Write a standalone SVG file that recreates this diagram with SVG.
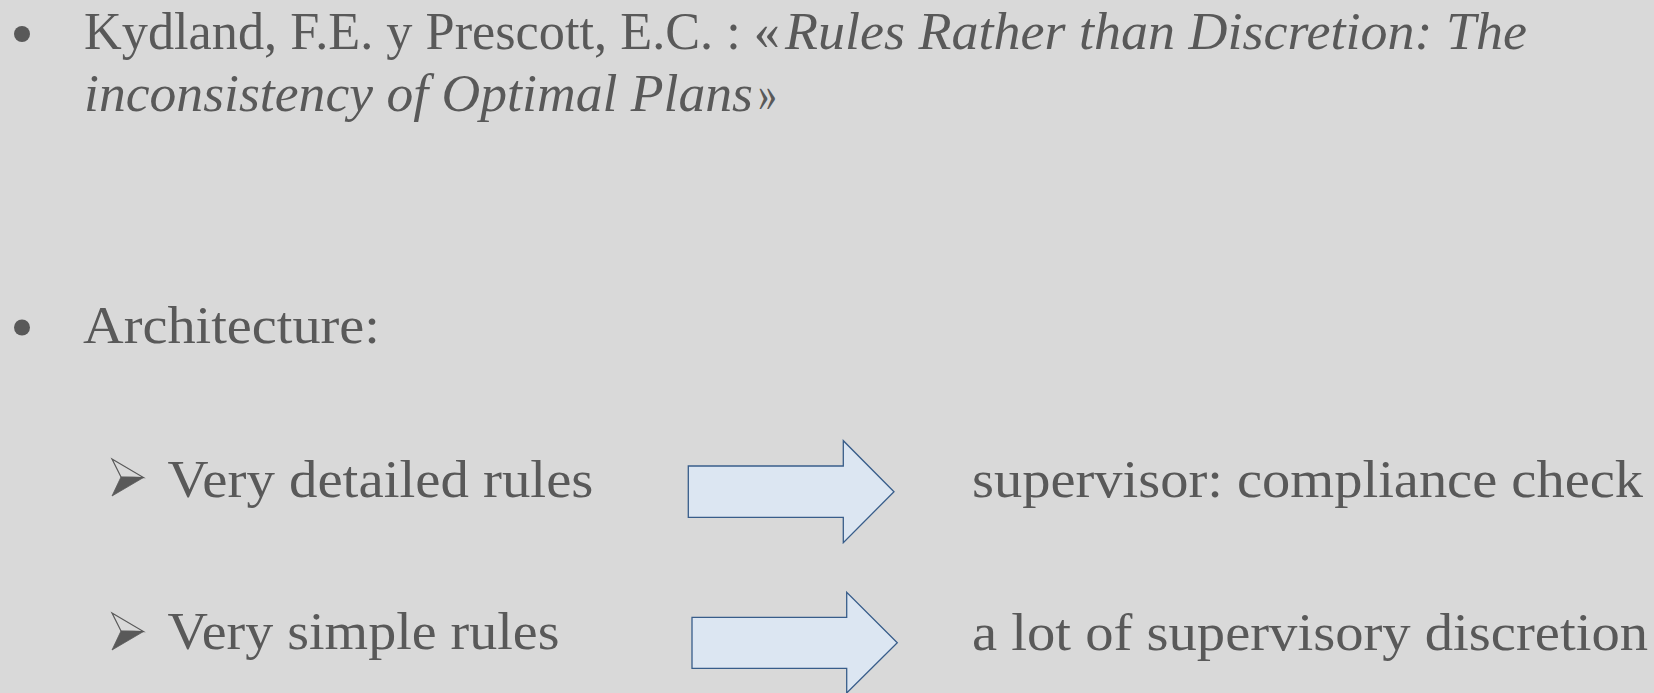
<svg xmlns="http://www.w3.org/2000/svg" width="1654" height="693" viewBox="0 0 1654 693">
<style>
.t{font-family:"Liberation Serif","Times New Roman",serif;font-size:53px;fill:#595959}
.i{font-style:italic}
.blk{fill:#dce6f2;stroke:#385d8a;stroke-width:1.3;stroke-linejoin:miter}
</style>
<defs>
<g id="sub">
<polygon points="112,459 143.5,477.5 121,477" fill="#d9d9d9" stroke="#595959" stroke-width="1.2" stroke-linejoin="miter"/>
<polygon points="121,477 143.5,477.5 112,496" fill="#595959" stroke="#595959" stroke-width="0.8"/>
</g>
</defs>
<rect width="1654" height="693" fill="#d9d9d9"/>
<g id="ref">
<circle cx="22" cy="34" r="8" fill="#595959"/>
<text class="t" x="84" y="49" textLength="696" lengthAdjust="spacingAndGlyphs">Kydland, F.E. y Prescott, E.C. : «</text>
<text class="t i" x="785" y="49" textLength="742" lengthAdjust="spacingAndGlyphs">Rules Rather than Discretion: The</text>
<text class="t i" x="84" y="111" textLength="669" lengthAdjust="spacingAndGlyphs">inconsistency of Optimal Plans</text>
<text class="t" x="758" y="111" textLength="19" lengthAdjust="spacingAndGlyphs">»</text>
</g>
<g id="architecture">
<circle cx="22" cy="327.5" r="8" fill="#595959"/>
<text class="t" x="83" y="343" textLength="297" lengthAdjust="spacingAndGlyphs">Architecture:</text>
</g>
<g id="detailed">
<use href="#sub"/>
<text class="t" x="167.5" y="497" textLength="426" lengthAdjust="spacingAndGlyphs">Very detailed rules</text>
</g>
<g id="simple">
<use href="#sub" transform="translate(0,154)"/>
<text class="t" x="167.5" y="649" textLength="392" lengthAdjust="spacingAndGlyphs">Very simple rules</text>
</g>
<g id="compliance">
<text class="t" x="972" y="497" textLength="671" lengthAdjust="spacingAndGlyphs">supervisor: compliance check</text>
</g>
<g id="discretion">
<text class="t" x="972" y="650" textLength="676" lengthAdjust="spacingAndGlyphs">a lot of supervisory discretion</text>
</g>
<g id="connectors">
<polygon class="blk" points="688.3,466 843.3,466 843.3,440.7 894,491.7 843.3,542.7 843.3,517.3 688.3,517.3"/>
<polygon class="blk" points="692,617.3 846.7,617.3 846.7,592.3 897.3,642.7 846.7,693 846.7,668.3 692,668.3"/>
</g>
</svg>
